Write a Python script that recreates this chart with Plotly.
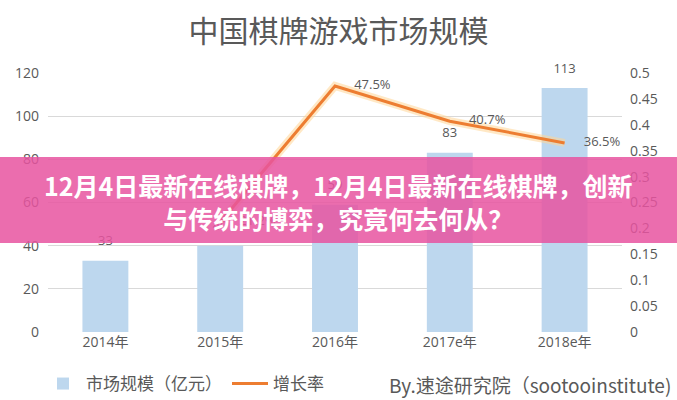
import plotly.graph_objects as go

# ---- data ----
years = ["2014年", "2015年", "2016年", "2017e年", "2018e年"]
market_size = [33, 40, 59, 83, 113]              # 市场规模（亿元）
growth_rate = [None, 0.212, 0.475, 0.407, 0.365]  # 增长率
growth_labels = ["", "21.2%", "47.5%", "40.7%", "36.5%"]

title_text = "中国棋牌游戏市场规模"
banner_text = "12月4日最新在线棋牌，12月4日最新在线棋牌，创新<br>与传统的博弈，究竟何去何从？"
source_text = "By.速途研究院（sootooinstitute)"

GRAY = "#595959"
FONT = "Open Sans, Noto Sans CJK SC, sans-serif"
CJK = "Noto Sans CJK SC, sans-serif"

fig = go.Figure()

fig.add_trace(go.Bar(
    x=years, y=market_size, name="市场规模（亿元）",
    marker=dict(color="#BDD7EE", line=dict(width=0)),
    hoverinfo="skip",
))

# bar value labels (drawn in the trace layer so the banner covers them)
fig.add_trace(go.Scatter(
    x=years, y=market_size, mode="markers+text",
    text=[str(v) for v in market_size], textposition="top center",
    textfont=dict(size=13, color=GRAY, family=FONT),
    marker=dict(size=18, color="rgba(0,0,0,0)"),
    showlegend=False, cliponaxis=False, hoverinfo="skip",
))

# glow under the line
fig.add_trace(go.Scatter(
    x=years, y=growth_rate, mode="lines", yaxis="y2",
    line=dict(color="rgba(255,214,150,0.55)", width=8),
    showlegend=False, hoverinfo="skip",
))

fig.add_trace(go.Scatter(
    x=years, y=growth_rate, mode="lines", yaxis="y2", name="增长率",
    line=dict(color="#ED7D31", width=3),
    hoverinfo="skip",
))

fig.add_trace(go.Scatter(
    x=years, y=growth_rate, mode="markers+text", yaxis="y2",
    text=growth_labels, textposition="middle right",
    textfont=dict(size=13, color=GRAY, family=FONT),
    marker=dict(size=29, color="rgba(0,0,0,0)"),
    showlegend=False, cliponaxis=False, hoverinfo="skip",
))

L, R, T, B = 48, 55, 73, 68
W, H = 677, 400
pw, ph = W - L - R, H - T - B

def px_x(x):
    return (x - L) / pw

def px_y(y):
    return (H - B - y) / ph

fig.update_layout(
    width=W, height=H,
    margin=dict(l=L, r=R, t=T, b=B, autoexpand=False),
    paper_bgcolor="white", plot_bgcolor="white",
    bargap=0.6,
    title=dict(text=title_text, x=0.5, xanchor="center", xref="container",
               y=1 - 31 / H, yanchor="middle", yref="container",
               font=dict(size=30, color=GRAY, family=CJK)),
    xaxis=dict(type="category", showgrid=False, ticks="", showline=False,
               tickfont=dict(size=14, color=GRAY, family=FONT)),
    yaxis=dict(range=[0, 120], dtick=20, showgrid=True, gridcolor="#D9D9D9",
               gridwidth=1, zeroline=False, showline=False, ticks="",
               ticklabelstandoff=8,
               tickfont=dict(size=14, color=GRAY, family=FONT)),
    yaxis2=dict(range=[0, 0.5], dtick=0.05, overlaying="y", side="right",
                showgrid=False, zeroline=False, showline=False, ticks="",
                ticklabelstandoff=7,
                tickfont=dict(size=14, color=GRAY, family=FONT)),
    legend=dict(orientation="h", x=px_x(40), xanchor="left",
                y=px_y(384), yanchor="middle",
                font=dict(size=17, color=GRAY, family=CJK),
                itemwidth=36, bgcolor="rgba(0,0,0,0)"),
    showlegend=True,
    shapes=[dict(type="rect", xref="paper", yref="paper",
                 x0=px_x(0), x1=px_x(W), y0=px_y(243), y1=px_y(157),
                 fillcolor="rgba(231,84,160,0.85)", line=dict(width=0),
                 layer="above")],
    annotations=[
        dict(text=banner_text, xref="paper", yref="paper",
             x=px_x(338), y=px_y(201), xanchor="center", yanchor="middle",
             showarrow=False, align="center",
             font=dict(size=25, color="white", family=CJK, weight="bold")),
        dict(text=source_text, xref="paper", yref="paper",
             x=px_x(387), y=px_y(384), xanchor="left", yanchor="middle",
             showarrow=False,
             font=dict(size=19, color=GRAY, family=CJK)),
    ],
)

fig.write_html(
    "out.html",
    config={"displayModeBar": False},
    post_script="document.body.style.margin='0';document.body.style.padding='0';",
)
